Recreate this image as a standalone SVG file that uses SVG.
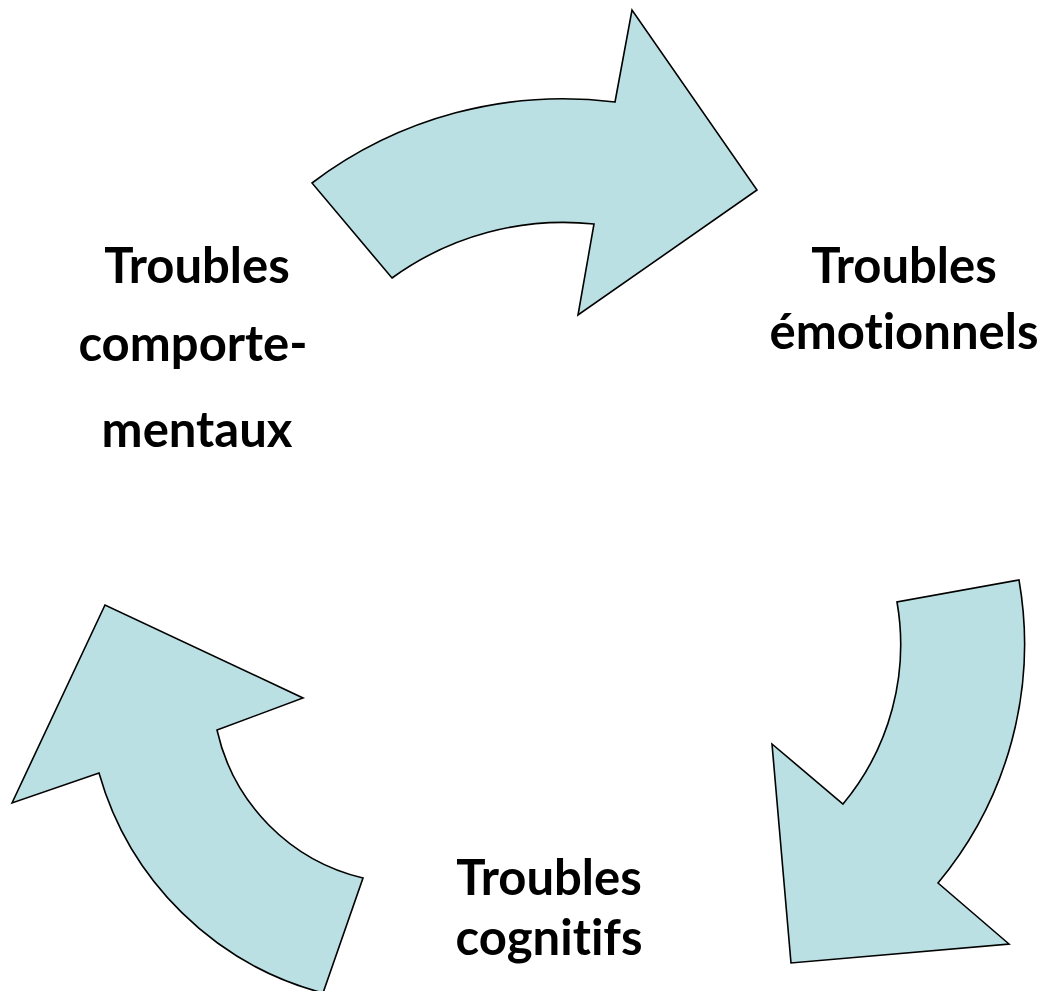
<svg xmlns="http://www.w3.org/2000/svg" width="1051" height="991" viewBox="0 0 1051 991">
<style>
.arr{fill:#BAE0E3;stroke:#000;stroke-width:1.6;stroke-linejoin:miter}
.lbl{font-family:Lato,"Liberation Sans",Arial,sans-serif;font-weight:bold;font-size:49px;fill:#000;text-anchor:middle;font-variant-ligatures:none;font-feature-settings:"liga" 0,"clig" 0,"dlig" 0}
</style>
<rect width="1051" height="991" fill="#fff"/>
<g id="connectors">
<path id="arrow-top" class="arr" d="M312,183 A416,416 0 0 1 615,102 L632,10 L757,190 L578,315 L594,224 A292,292 0 0 0 392,278 Z"/>
<path id="arrow-right" class="arr" d="M1019,580 A373,373 0 0 1 938,883 L1009,944 L791,963 L772,744 L843,804 A249,249 0 0 0 897,602 Z"/>
<path id="arrow-left" class="arr" d="M12,803 L105,605 L303,698 L217,730 A196,196 0 0 0 363,878 L323,993 A317,317 0 0 1 99,773 Z"/>
</g>
<g id="node-comportementaux">
<text class="lbl" x="197" y="283">Troubles</text>
<text class="lbl" x="193" y="361">comporte-</text>
<text class="lbl" x="197" y="447">mentaux</text>
</g>
<g id="node-emotionnels">
<text class="lbl" x="904" y="283">Troubles</text>
<text class="lbl" x="904" y="349">émotionnels</text>
</g>
<g id="node-cognitifs">
<text class="lbl" x="549" y="895">Troubles</text>
<text class="lbl" x="549" y="955">cognitifs</text>
</g>
</svg>
